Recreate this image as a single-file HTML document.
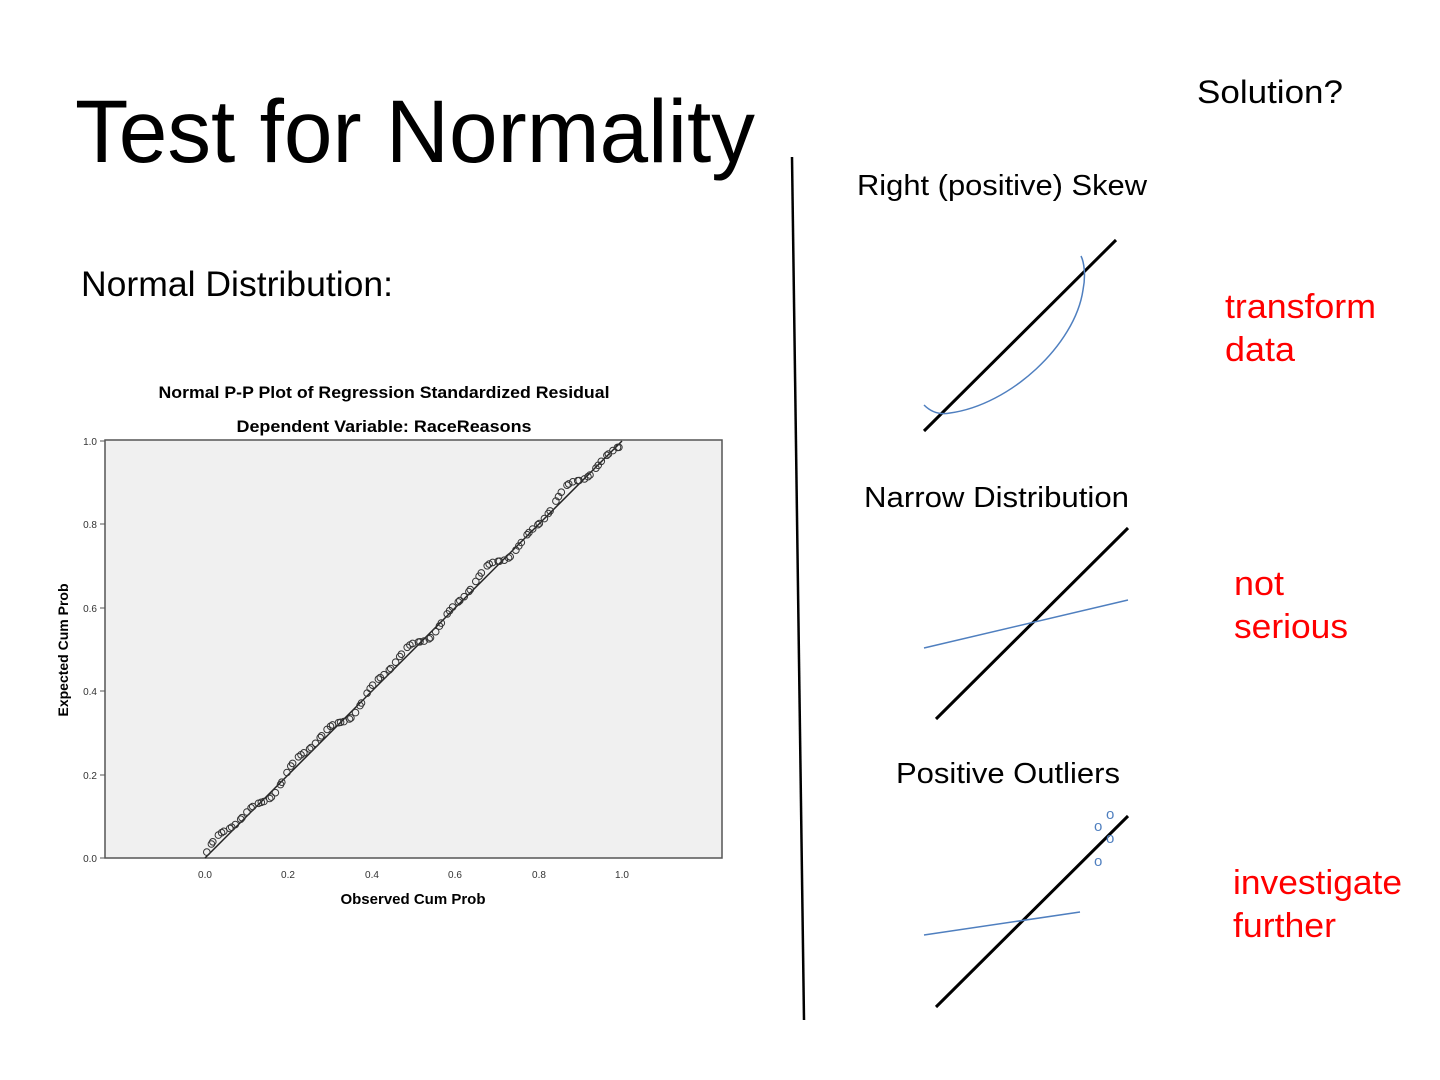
<!DOCTYPE html>
<html><head><meta charset="utf-8"><style>
html,body{margin:0;padding:0;background:#fff}
svg{display:block}
text{font-family:"Liberation Sans Narrow","Liberation Sans",sans-serif}
</style></head><body>
<svg id="s" width="1440" height="1080" viewBox="0 0 1440 1080" xmlns="http://www.w3.org/2000/svg">
<rect width="1440" height="1080" fill="#fff"/>
<text x="75" y="162" font-size="89" textLength="680" lengthAdjust="spacingAndGlyphs">Test for Normality</text>
<text x="81" y="296" font-size="35" textLength="312" lengthAdjust="spacingAndGlyphs">Normal Distribution:</text>
<text x="1197" y="103" font-size="32" textLength="146" lengthAdjust="spacingAndGlyphs">Solution?</text>
<text x="857" y="195" font-size="29" textLength="290" lengthAdjust="spacingAndGlyphs">Right (positive) Skew</text>
<text x="864" y="507" font-size="29" textLength="265" lengthAdjust="spacingAndGlyphs">Narrow Distribution</text>
<text x="896" y="783" font-size="29" textLength="224" lengthAdjust="spacingAndGlyphs">Positive Outliers</text>
<g fill="#f00" font-size="34">
<text x="1225" y="318" textLength="151" lengthAdjust="spacingAndGlyphs">transform</text>
<text x="1225" y="361" textLength="70" lengthAdjust="spacingAndGlyphs">data</text>
<text x="1234" y="595" textLength="50" lengthAdjust="spacingAndGlyphs">not</text>
<text x="1234" y="638" textLength="114" lengthAdjust="spacingAndGlyphs">serious</text>
<text x="1233" y="894" textLength="169" lengthAdjust="spacingAndGlyphs">investigate</text>
<text x="1233" y="937" textLength="103" lengthAdjust="spacingAndGlyphs">further</text>
</g>
<line x1="792" y1="157" x2="804" y2="1020" stroke="#000" stroke-width="2.5"/>
<line x1="924" y1="431" x2="1116" y2="240" stroke="#000" stroke-width="3"/>
<path d="M924,405 Q935,416 950,413 C1010,405 1075,345 1083,290 C1086,275 1084,262 1081,256" fill="none" stroke="#4f7fbf" stroke-width="1.5"/>
<line x1="936" y1="719" x2="1128" y2="528" stroke="#000" stroke-width="3"/>
<line x1="924" y1="648" x2="1128" y2="600" stroke="#4f7fbf" stroke-width="1.5"/>
<line x1="936" y1="1007" x2="1128" y2="816" stroke="#000" stroke-width="3"/>
<line x1="924" y1="935" x2="1080" y2="912" stroke="#4f7fbf" stroke-width="1.5"/>
<g fill="#4f7fbf" font-size="15" font-family="Liberation Sans,sans-serif">
<text x="1094" y="831">o</text><text x="1106" y="819">o</text><text x="1106" y="843">o</text><text x="1094" y="866">o</text>
</g>
<text x="384" y="398" font-size="17" font-weight="bold" text-anchor="middle" textLength="451" lengthAdjust="spacingAndGlyphs">Normal P-P Plot of Regression Standardized Residual</text>
<text x="384" y="432" font-size="17" font-weight="bold" text-anchor="middle" textLength="295" lengthAdjust="spacingAndGlyphs">Dependent Variable: RaceReasons</text>
<rect x="105" y="440" width="617" height="418" fill="#f0f0f0" stroke="#555" stroke-width="1.5"/>
<g font-size="10" fill="#333" font-family="Liberation Sans,sans-serif">
<text x="97" y="862" text-anchor="end">0.0</text><text x="97" y="779" text-anchor="end">0.2</text>
<text x="97" y="695" text-anchor="end">0.4</text><text x="97" y="612" text-anchor="end">0.6</text>
<text x="97" y="528" text-anchor="end">0.8</text><text x="97" y="445" text-anchor="end">1.0</text>
<text x="205" y="878" text-anchor="middle">0.0</text><text x="288" y="878" text-anchor="middle">0.2</text>
<text x="372" y="878" text-anchor="middle">0.4</text><text x="455" y="878" text-anchor="middle">0.6</text>
<text x="539" y="878" text-anchor="middle">0.8</text><text x="622" y="878" text-anchor="middle">1.0</text>
</g>
<g stroke="#555"><line x1="100" y1="858" x2="105" y2="858"/><line x1="100" y1="775" x2="105" y2="775"/><line x1="100" y1="691" x2="105" y2="691"/><line x1="100" y1="608" x2="105" y2="608"/><line x1="100" y1="524" x2="105" y2="524"/><line x1="100" y1="441" x2="105" y2="441"/></g>
<text x="413" y="904" font-size="15" font-weight="bold" text-anchor="middle" font-family="Liberation Sans,sans-serif">Observed Cum Prob</text>
<text transform="translate(68,650) rotate(-90)" font-size="14" font-weight="bold" text-anchor="middle" font-family="Liberation Sans,sans-serif">Expected Cum Prob</text>
<line x1="205" y1="858" x2="622" y2="441" stroke="#222" stroke-width="1.5"/>
<g id="pts" fill="none" stroke="#333" stroke-width="1"></g>
</svg>
<script>
var g=document.getElementById('pts'),h='';
for(var i=0;i<115;i++){var x=(i+0.5)/115+0.003*Math.sin(i*2.3);var y=x+0.012*Math.sin(x*31)+0.008*Math.sin(x*67)+0.006;
if(y<0)y=0;if(y>0.985)y=0.985;if(x<0)x=0;
h+='<circle cx="'+(205+417*x).toFixed(1)+'" cy="'+(858-417*y).toFixed(1)+'" r="3.3"/>';}
g.innerHTML=h;
</script>
</body></html>
